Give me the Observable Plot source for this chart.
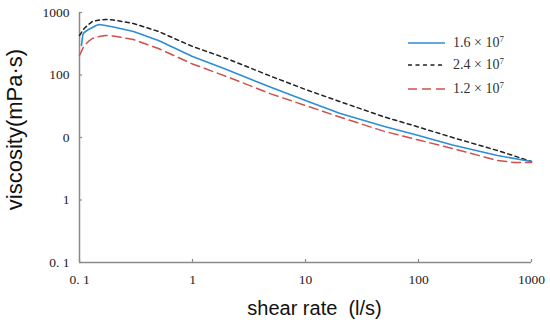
<!DOCTYPE html>
<html>
<head>
<meta charset="utf-8">
<script src="https://cdn.jsdelivr.net/npm/d3@7"></script>
<script src="https://cdn.jsdelivr.net/npm/@observablehq/plot@0.6"></script>
<style>
  html, body { margin: 0; padding: 0; background: #fff; }
  #wrap { position: relative; width: 550px; height: 328px; }
  #legend { position: absolute; left: 408px; top: 32px; font-family: "Liberation Serif", serif; font-size: 14px; color: #333; }
  .row { position: absolute; left: 0; height: 20px; width: 140px; display: flex; align-items: center; white-space: nowrap; }
  .row svg { margin-right: 8px; }
  sup { font-size: 9px; vertical-align: 5px; line-height: 0; }
</style>
</head>
<body>
<div id="wrap"></div>
<script>
// Series: 1.6×10^7 (blue solid)
const rateA = [0.104, 0.107, 0.11, 0.12, 0.13, 0.14, 0.15, 0.17, 0.2, 0.3, 0.5, 1, 2, 5, 10, 20, 50, 100, 200, 500, 1000];
const viscA = [296, 445, 479, 535, 575, 619, 643, 619, 586, 497, 356, 198, 122, 63.1, 39.1, 24.5, 15.0, 10.8, 7.59, 5.15, 4.13];
// Series: 2.4×10^7 (black dotted)
const rateB = [0.1, 0.11, 0.12, 0.13, 0.15, 0.17, 0.2, 0.3, 0.5, 1, 2, 5, 10, 20, 50, 100, 200, 500, 1000];
const viscB = [429, 555, 643, 718, 759, 773, 759, 667, 497, 286, 184, 94.6, 58.6, 37.7, 21.3, 14.7, 10.0, 6.19, 4.13];
// Series: 1.2×10^7 (red dashed)
const rateC = [0.1, 0.11, 0.12, 0.13, 0.15, 0.17, 0.2, 0.3, 0.5, 1, 2, 5, 10, 20, 50, 100, 200, 500, 700, 1000];
const viscC = [205, 296, 344, 384, 413, 429, 421, 370, 265, 150, 94.6, 49.4, 32.5, 21.3, 12.5, 9.12, 6.67, 4.29, 3.98, 3.98];

const xTicks = [0.1, 1, 10, 100, 1000];
const xTickLabels = ["0. 1", "1", "10", "100", "1000"];
const yTicks = [0.1, 1, 10, 100, 1000];
const yTickLabels = ["0. 1", "1", "0", "100", "1000"];
const seriesNames = ["1.6 × 10", "2.4 × 10", "1.2 × 10"];

const toRows = (rates, viscs) => rates.map((r, i) => ({rate: r, visc: viscs[i]}));
const dataA = toRows(rateA, viscA);
const dataB = toRows(rateB, viscB);
const dataC = toRows(rateC, viscC);

const axisColor = "#8a8a8a";
const tickFont = "Liberation Serif, serif";

const chart = Plot.plot({
  width: 550,
  height: 328,
  marginLeft: 79,
  marginRight: 19,
  marginTop: 12,
  marginBottom: 66,
  x: {type: "log", domain: [0.1, 1000]},
  y: {type: "log", domain: [0.1, 1000]},
  style: {background: "#fff"},
  marks: [
    // inward tick marks
    Plot.axisX({ticks: xTicks, tickSize: 3, dy: -3, fill: "none", stroke: axisColor, strokeWidth: 1.2, label: null}),
    Plot.axisY({ticks: yTicks, tickSize: 3, dx: 3, fill: "none", stroke: axisColor, strokeWidth: 1.2, label: null}),
    // tick labels
    Plot.axisX({ticks: xTicks, tickSize: 0, tickPadding: 12, tickFormat: (d) => xTickLabels[xTicks.indexOf(d)], fontFamily: tickFont, fontSize: 13.5, fill: "#222", label: null}),
    Plot.axisY({ticks: yTicks, tickSize: 0, tickPadding: 10, tickFormat: (d) => yTickLabels[yTicks.indexOf(d)], fontFamily: tickFont, fontSize: 13.5, fill: "#222", label: null}),
    Plot.ruleX([0.1], {stroke: axisColor, strokeWidth: 1.5}),
    Plot.ruleY([0.1], {stroke: axisColor, strokeWidth: 1.5}),
    Plot.line(dataC, {x: "rate", y: "visc", stroke: "#d0504c", strokeWidth: 1.5, strokeDasharray: "9,5"}),
    Plot.line(dataB, {x: "rate", y: "visc", stroke: "#222", strokeWidth: 1.5, strokeDasharray: "4,3.5"}),
    Plot.line(dataA, {x: "rate", y: "visc", stroke: "#2f8dd4", strokeWidth: 1.6}),
    Plot.text(["viscosity(mPa·s)"], {frameAnchor: "left", textAnchor: "middle", lineAnchor: "middle", rotate: -90, dx: -65, dy: -8, fontFamily: "Liberation Sans, Arial, sans-serif", fontSize: 22, fill: "#111"}),
    Plot.text(["shear rate  (l/s)"], {frameAnchor: "bottom", textAnchor: "middle", dy: 52, dx: 9, fontFamily: "Liberation Sans, Arial, sans-serif", fontSize: 20, fill: "#111"})
  ]
});

const wrap = document.getElementById("wrap");
wrap.appendChild(chart);

// legend
const legend = document.createElement("div");
legend.id = "legend";
const styles = [
  {stroke: "#2f8dd4", dash: null, top: 1},
  {stroke: "#222", dash: "4,3.5", top: 23},
  {stroke: "#d0504c", dash: "9,5", top: 47}
];
seriesNames.forEach((name, i) => {
  const s = styles[i];
  const row = document.createElement("div");
  row.className = "row";
  row.style.top = s.top + "px";
  row.innerHTML = `<svg width="37" height="6"><line x1="0" x2="37" y1="3" y2="3" stroke="${s.stroke}" stroke-width="1.6" ${s.dash ? `stroke-dasharray="${s.dash}"` : ""}/></svg><span>${name}<sup>7</sup></span>`;
  legend.appendChild(row);
});
wrap.appendChild(legend);
</script>
</body>
</html>
